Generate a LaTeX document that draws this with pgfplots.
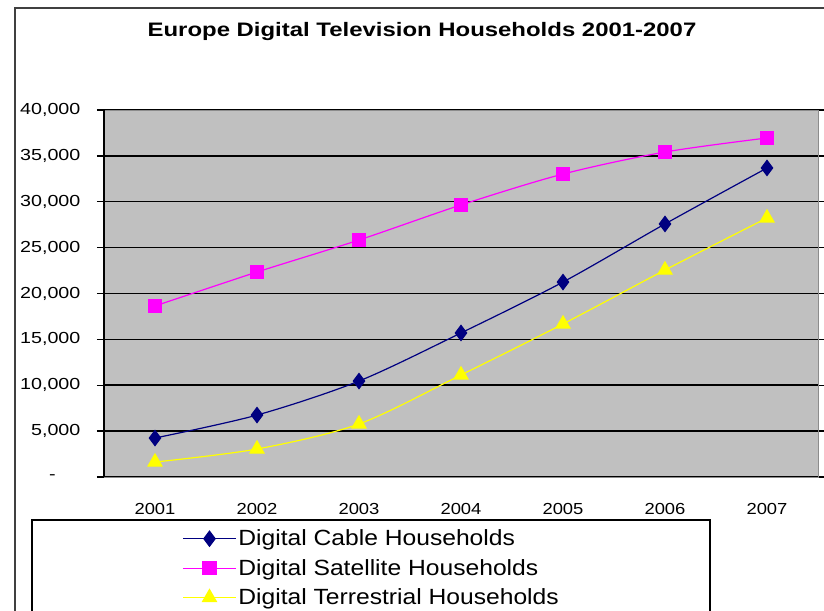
\documentclass[border=0pt]{standalone}
\usepackage{pgfplots}
\pgfplotsset{compat=1.18}
\usepackage{fontspec}
\setmainfont{Liberation Sans}
\definecolor{plotgray}{RGB}{192,192,192}
\definecolor{cablecol}{RGB}{0,0,128}
\definecolor{satcol}{RGB}{255,0,255}
\definecolor{tercol}{RGB}{255,255,0}
\begin{document}
\begin{tikzpicture}[x=1pt,y=1pt]
\useasboundingbox (0,0) rectangle (824,610);
\clip (0,0) rectangle (824,610);
% outer chart frame
\draw[line width=1.6pt, black!75] (15,-10) -- (15,602) -- (840,602);
\node[font=\bfseries\fontsize{19.5}{20}\selectfont, xscale=1.227] at (422,578) {Europe Digital Television Households 2001-2007};
% legend frame
\draw[line width=1.3pt, black] (32,-20) rectangle (710,90);
\begin{axis}[
  at={(104pt,133pt)}, anchor=south west,
  scale only axis, width=714pt, height=367pt,
  xmin=-0.5, xmax=6.5, ymin=0, ymax=40000,
  scaled y ticks=false,
  axis background/.style={fill=plotgray},
  axis line style={draw=black!45, line width=0.8pt},
  xtick={0,...,6},
  xticklabels={2001,2002,2003,2004,2005,2006,2007},
  xtick style={draw=none},
  xticklabel style={font=\fontsize{16}{16}\selectfont, xscale=1.15, yshift=-16pt},
  extra x ticks={-0.5,0.5,...,6.5},
  extra x tick labels={},
  extra x tick style={tick align=outside, major tick length=7pt, tick style={black, line width=1.3pt}, grid=none},
  ytick={0,5000,...,40000},
  yticklabels={{-\rule{20pt}{0pt}},{5,000},{10,000},{15,000},{20,000},{25,000},{30,000},{35,000},{40,000}},
  yticklabel style={font=\fontsize{16}{16}\selectfont, xscale=1.23, xshift=-10pt},
  ytick style={black, line width=1.3pt},
  tick align=outside, major tick length=7pt,
  ymajorgrids, major grid style={black, line width=1.5pt},
  clip=false,
  legend style={at={(0.106,-0.133)}, anchor=north west, draw=none, fill=none,
    font=\fontsize{22}{24}\selectfont, row sep=8pt,
    nodes={inner sep=2pt, xscale=1.12}},
  legend cell align=left,
  legend image code/.code={\draw[mark repeat=2,mark phase=2] plot coordinates {(0pt,0pt) (26pt,0pt) (52pt,0pt)};},
]
\draw[black, line width=1.5pt] (rel axis cs:0,0) -- (rel axis cs:0,1);
\addplot[cablecol, line width=1.2pt, smooth, mark=diamond*, mark size=7.5pt, mark options={solid, fill=cablecol}]
  coordinates {(0,4250) (1,6750) (2,10460) (3,15700) (4,21250) (5,27580) (6,33680)};
\addlegendentry{Digital Cable Households}
\addplot[satcol, line width=1.2pt, smooth, mark=square*, mark size=6.5pt, mark options={solid, fill=satcol}]
  coordinates {(0,18640) (1,22340) (2,25830) (3,29650) (4,33020) (5,35420) (6,36950)};
\addlegendentry{Digital Satellite Households}
\addplot[tercol, line width=1.2pt, smooth, mark=triangle*, mark size=8pt, mark options={solid, fill=tercol}]
  coordinates {(0,1630) (1,3050) (2,5780) (3,11120) (4,16680) (5,22560) (6,28230)};
\addlegendentry{Digital Terrestrial Households}
\end{axis}
\end{tikzpicture}
\end{document}
